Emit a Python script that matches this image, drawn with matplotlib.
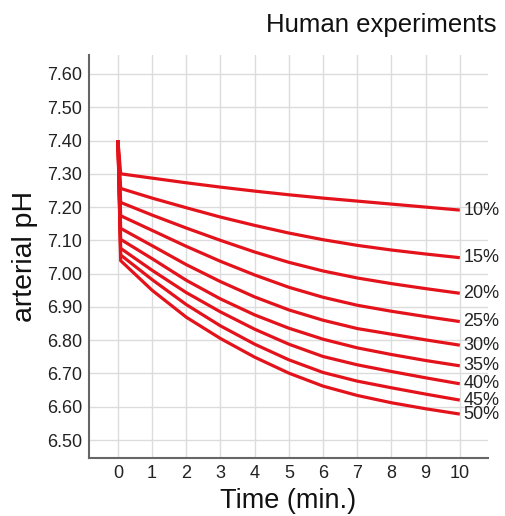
import matplotlib
matplotlib.use("Agg")
import matplotlib.pyplot as plt

plt.rcParams['font.family'] = ['Liberation Sans', 'DejaVu Sans']

time_min = [0, 0.08, 1, 2, 3, 4, 5, 6, 7, 8, 9, 10]
labels = ["10%", "15%", "20%", "25%", "30%", "35%", "40%", "45%", "50%"]
ph_10 = [7.40, 7.300, 7.287, 7.273, 7.260, 7.248, 7.237, 7.227, 7.218, 7.209, 7.200, 7.191]
ph_15 = [7.40, 7.256, 7.227, 7.198, 7.170, 7.145, 7.122, 7.102, 7.085, 7.071, 7.059, 7.048]
ph_20 = [7.40, 7.214, 7.176, 7.137, 7.100, 7.065, 7.034, 7.008, 6.987, 6.970, 6.955, 6.941]
ph_25 = [7.40, 7.174, 7.130, 7.082, 7.037, 6.996, 6.959, 6.929, 6.905, 6.887, 6.871, 6.856]
ph_30 = [7.40, 7.136, 7.084, 7.027, 6.976, 6.930, 6.891, 6.860, 6.835, 6.818, 6.801, 6.785]
ph_35 = [7.40, 7.103, 7.045, 6.980, 6.924, 6.876, 6.836, 6.803, 6.777, 6.757, 6.739, 6.723]
ph_40 = [7.40, 7.076, 7.010, 6.943, 6.885, 6.833, 6.788, 6.751, 6.726, 6.706, 6.687, 6.669]
ph_45 = [7.40, 7.056, 6.982, 6.907, 6.843, 6.788, 6.741, 6.703, 6.677, 6.657, 6.638, 6.620]
ph_50 = [7.40, 7.039, 6.950, 6.869, 6.805, 6.749, 6.701, 6.662, 6.634, 6.612, 6.594, 6.578]
series = [ph_10, ph_15, ph_20, ph_25, ph_30, ph_35, ph_40, ph_45, ph_50]

x_ticks = list(range(0, 11))
y_ticks = [6.50, 6.60, 6.70, 6.80, 6.90, 7.00, 7.10, 7.20, 7.30, 7.40, 7.50, 7.60]

fig = plt.figure(figsize=(5.05, 5.16), dpi=100)
ax = fig.add_axes([0.176, 0.1124, 0.790, 0.781])

red = '#e3121b'
for vals, lab in zip(series, labels):
    ax.plot(time_min, vals, color=red, lw=2.3, solid_capstyle='butt',
            solid_joinstyle='round', zorder=3)
    ax.text(time_min[-1] + 0.1, vals[-1], lab, ha='left', va='center',
            fontsize=13, color='#222222', zorder=4)

ax.set_xlim(-0.85, 10.82)
ax.set_ylim(6.446, 7.657)
ax.set_xticks(x_ticks)
ax.set_yticks(y_ticks)
ax.set_yticklabels([f"{v:.2f}" for v in y_ticks])
ax.tick_params(axis='both', length=0, labelsize=13, pad=5, colors='#222222')

ax.grid(True, color='#dcdcdc', lw=1.0, zorder=0)
ax.set_axisbelow(True)
for s in ['top', 'right']:
    ax.spines[s].set_visible(False)
for s in ['left', 'bottom']:
    ax.spines[s].set_color('#666666')
    ax.spines[s].set_linewidth(1.5)

ax.set_xlabel("Time (min.)", fontsize=19.5, color='#111111', labelpad=4)
ax.set_ylabel("arterial pH", fontsize=20.5, color='#111111', labelpad=6)
fig.text(0.984, 0.951, "Human experiments", ha='right', va='center',
         fontsize=18.5, color='#111111')

fig.savefig("out.png", dpi=100)
